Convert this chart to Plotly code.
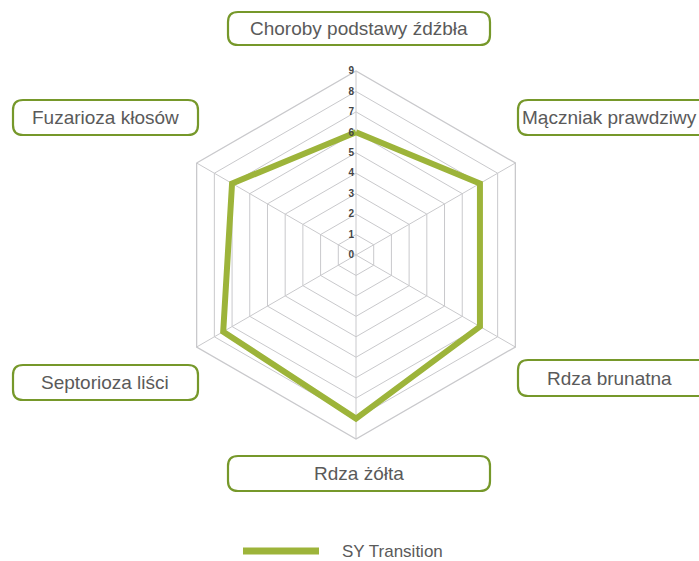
import plotly.graph_objects as go

W, H = 699, 561

categories = [
    "Choroby podstawy źdźbła",
    "Mączniak prawdziwy",
    "Rdza brunatna",
    "Rdza żółta",
    "Septorioza liści",
    "Fuzarioza kłosów",
]
sy_transition = [6, 7, 7, 8, 7.5, 7]
series_name = "SY Transition"
radial_ticks = [0, 1, 2, 3, 4, 5, 6, 7, 8, 9]

GREEN = "#9db43a"
BORDER = "#76982a"
GRID = "#c9c9cc"
TEXT = "#5a5a5a"

# label boxes in pixels (x0, y0, x1, y1)
boxes = [
    (228, 12, 490, 45),
    (518, 100, 712, 135),
    (518, 360, 712, 396),
    (228, 456, 490, 491),
    (13, 365, 198, 400),
    (13, 100, 198, 135),
]


def px(x, y):
    return x / W, 1 - y / H


def rounded_path(x0, y0, x1, y1, r=10):
    def p(x, y):
        a, b = px(x, y)
        return f"{a:.5f},{b:.5f}"
    pts = [
        f"M {p(x0 + r, y0)}",
        f"L {p(x1 - r, y0)}",
        f"Q {p(x1, y0)} {p(x1, y0 + r)}",
        f"L {p(x1, y1 - r)}",
        f"Q {p(x1, y1)} {p(x1 - r, y1)}",
        f"L {p(x0 + r, y1)}",
        f"Q {p(x0, y1)} {p(x0, y1 - r)}",
        f"L {p(x0, y0 + r)}",
        f"Q {p(x0, y0)} {p(x0 + r, y0)}",
    ]
    return " ".join(pts) + " Z"


fig = go.Figure()
fig.add_trace(go.Scatterpolar(
    r=sy_transition + sy_transition[:1],
    theta=categories + categories[:1],
    mode="lines",
    name=series_name,
    line=dict(color=GREEN, width=6),
    showlegend=False,
))

cx, cy, rad = 356, 255, 184
dx0, dy1 = px(cx - rad, cy + rad)
dx1, dy0 = px(cx + rad, cy - rad)

fig.update_layout(
    width=W,
    height=H,
    margin=dict(l=0, r=0, t=0, b=0),
    paper_bgcolor="white",
    font=dict(family="Liberation Sans, Arial, sans-serif", color=TEXT),
    polar=dict(
        domain=dict(x=[dx0, dx1], y=[dy1, dy0]),
        gridshape="linear",
        bgcolor="white",
        radialaxis=dict(
            range=[0, 9],
            tickvals=radial_ticks,
            angle=90,
            tickangle=90,
            side="counterclockwise",
            showline=False,
            gridcolor=GRID,
            gridwidth=1.3,
            ticks="",
            tickfont=dict(size=10, color="#444444", family="Liberation Sans, Arial, sans-serif", weight="bold"),
        ),
        angularaxis=dict(
            rotation=90,
            direction="clockwise",
            showticklabels=False,
            ticks="",
            gridcolor=GRID,
            gridwidth=1.3,
            linecolor=GRID,
            linewidth=1.3,
        ),
    ),
)

for (x0, y0, x1, y1), label in zip(boxes, categories):
    fig.add_shape(
        type="path", xref="paper", yref="paper",
        path=rounded_path(x0, y0, x1, y1),
        line=dict(color=BORDER, width=2.2),
        fillcolor="white",
    )
    if x1 > W:
        ax, ay = px((x0 + W) / 2 + 1, (y0 + y1) / 2)
    else:
        ax, ay = px((x0 + x1) / 2, (y0 + y1) / 2)
    fig.add_annotation(
        x=ax, y=ay, xref="paper", yref="paper",
        text=label, showarrow=False,
        font=dict(size=19, color=TEXT),
        xanchor="center", yanchor="middle",
    )

# legend
lx0, ly = px(243, 551)
lx1, _ = px(319, 551)
fig.add_shape(type="line", xref="paper", yref="paper",
              x0=lx0, x1=lx1, y0=ly, y1=ly,
              line=dict(color=GREEN, width=7))
tx, ty = px(340, 551)
fig.add_annotation(x=tx, y=ty, xref="paper", yref="paper",
                   text=series_name, showarrow=False,
                   xanchor="left", yanchor="middle",
                   font=dict(size=17, color=TEXT))

fig.write_html(
    "out.html",
    config={"displayModeBar": False},
    post_script="document.body.style.margin='0px';document.body.style.overflow='hidden';",
)
